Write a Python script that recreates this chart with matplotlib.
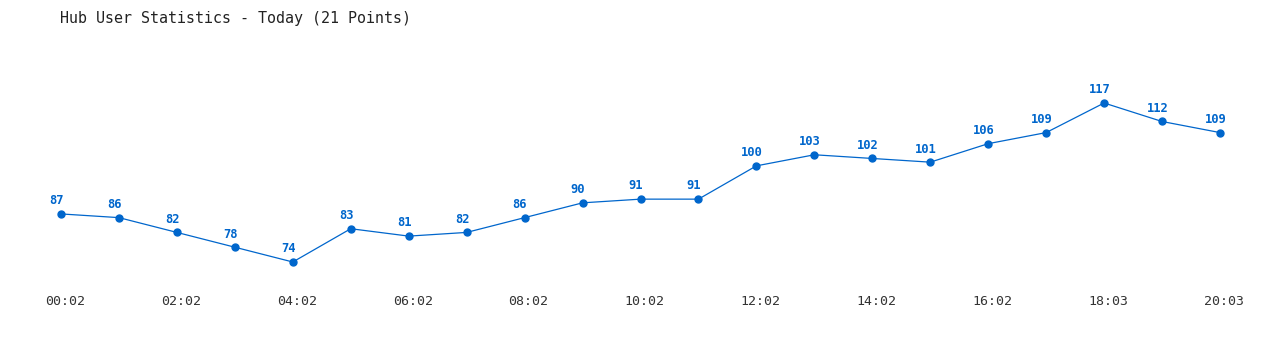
import matplotlib.pyplot as plt
import matplotlib.transforms as mtransforms

# hourly user counts, today
times = ["00:02", "01:02", "02:02", "03:02", "04:02", "05:02", "06:02",
         "07:02", "08:02", "09:02", "10:02", "11:02", "12:02", "13:02",
         "14:02", "15:02", "16:02", "17:02", "18:03", "19:03", "20:03"]
users = [87, 86, 82, 78, 74, 83, 81, 82, 86, 90, 91, 91, 100, 103,
         102, 101, 106, 109, 117, 112, 109]

blue = "#0066cc"
mono = "DejaVu Sans Mono"

fig = plt.figure(figsize=(12.8, 3.5), dpi=100)
ax = fig.add_axes([61 / 1280, 1 - 262 / 350, (1220 - 61) / 1280, (262 - 103) / 350])

xs = list(range(len(users)))
ax.plot(xs, users, color=blue, lw=0.9, marker="o", ms=5, clip_on=False)
for x, v in zip(xs, users):
    ax.text(x - 0.08, v + 1.8, str(v), color=blue, fontsize=8.7, fontweight="bold",
            family=mono, ha="center", va="bottom")

ax.set_xlim(0, 20)
ax.set_ylim(74, 117)
ax.set_xticks(xs[::2])
ax.set_xticklabels(times[::2], family=mono, fontsize=9.5, color="#333333")
ax.tick_params(axis="x", length=0, pad=24)
shift = mtransforms.ScaledTranslation(4 / 100, 0, fig.dpi_scale_trans)
for lbl in ax.get_xticklabels():
    lbl.set_transform(lbl.get_transform() + shift)
ax.set_yticks([])
for s in ax.spines.values():
    s.set_visible(False)

fig.text(60 / 1280, 1 - 18 / 350, "Hub User Statistics - Today (21 Points)",
         family=mono, fontsize=10.8, color="#222222", va="center", ha="left")

fig.savefig("out.png", dpi=100)
